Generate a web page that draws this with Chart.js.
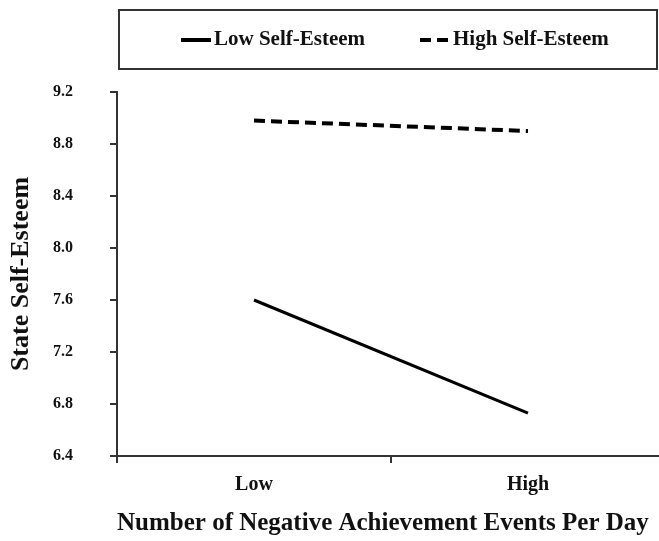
<!DOCTYPE html>
<html>
<head>
<meta charset="utf-8">
<script src="https://cdn.jsdelivr.net/npm/chart.js@4"></script>
<style>
  html, body { margin: 0; padding: 0; background: #fff; overflow: hidden; }
  #wrap { width: 670px; height: 541px; }
</style>
</head>
<body>
<div id="wrap"><canvas id="c" width="670" height="541"></canvas></div>
<script>
const categories = ["Low", "High"];
const lowSelfEsteem = [7.60, 6.73];
const highSelfEsteem = [8.98, 8.90];
const seriesNames = ["Low Self-Esteem", "High Self-Esteem"];
const yTicks = [6.4, 6.8, 7.2, 7.6, 8.0, 8.4, 8.8, 9.2];

const FONT = "'Liberation Serif', 'Times New Roman', serif";
const AXIS = "#333333";
const INK = "#111111";

const boxedLegend = {
  id: 'boxedLegend',
  afterDraw(chart) {
    const ctx = chart.ctx;
    ctx.save();
    ctx.strokeStyle = AXIS;
    ctx.lineWidth = 2;
    ctx.strokeRect(119, 10, 538, 59);
    const starts = [181, 420];
    const cy = 40;
    chart.data.datasets.forEach((ds, i) => {
      const x0 = starts[i];
      ctx.beginPath();
      ctx.setLineDash(ds.borderDash || []);
      ctx.lineWidth = 4;
      ctx.strokeStyle = ds.borderColor;
      ctx.lineCap = 'butt';
      ctx.moveTo(x0, cy);
      ctx.lineTo(x0 + 30, cy);
      ctx.stroke();
      ctx.setLineDash([]);
      ctx.fillStyle = INK;
      ctx.font = "bold 21px " + FONT;
      ctx.textBaseline = 'middle';
      ctx.textAlign = 'left';
      ctx.fillText(ds.label, x0 + 33, cy);
    });
    ctx.restore();
  }
};

new Chart(document.getElementById('c'), {
  type: 'line',
  data: {
    labels: categories,
    datasets: [
      {
        label: seriesNames[0],
        data: lowSelfEsteem,
        borderColor: '#000000',
        borderWidth: 3,
        pointRadius: 0,
        tension: 0,
        fill: false
      },
      {
        label: seriesNames[1],
        data: highSelfEsteem,
        borderColor: '#000000',
        borderWidth: 4,
        borderDash: [11, 6],
        pointRadius: 0,
        tension: 0,
        fill: false
      }
    ]
  },
  options: {
    responsive: false,
    animation: false,
    devicePixelRatio: 1,
    layout: { padding: { left: 0, right: 5, top: 92, bottom: 0 } },
    plugins: {
      legend: { display: false },
      tooltip: { enabled: false }
    },
    scales: {
      x: {
        type: 'category',
        offset: true,
        afterFit: (s) => { s.height = 85; },
        grid: {
          offset: true,
          drawOnChartArea: false,
          drawTicks: true,
          tickLength: 7,
          color: AXIS,
          lineWidth: 2
        },
        border: { display: true, color: AXIS, width: 2 },
        ticks: {
          color: INK,
          padding: 10,
          font: { family: FONT, size: 20, weight: 'bold' }
        },
        title: {
          display: true,
          align: 'start',
          text: 'Number of Negative Achievement Events Per Day',
          color: INK,
          padding: { top: 0, bottom: 2 },
          font: { family: FONT, size: 25, weight: 'bold' }
        }
      },
      y: {
        min: 6.4,
        max: 9.2,
        afterFit: (s) => { s.width = 117; },
        afterBuildTicks: (s) => { s.ticks = yTicks.map(v => ({ value: v })); },
        grid: {
          drawOnChartArea: false,
          drawTicks: true,
          tickLength: 7,
          color: AXIS,
          lineWidth: 2
        },
        border: { display: true, color: AXIS, width: 2 },
        ticks: {
          color: INK,
          padding: 37,
          callback: (v) => Number(v).toFixed(1),
          font: { family: FONT, size: 16, weight: 'bold' }
        },
        title: {
          display: true,
          text: 'State Self-Esteem',
          color: INK,
          padding: { top: 6, bottom: 0 },
          font: { family: FONT, size: 26, weight: 'bold' }
        }
      }
    }
  },
  plugins: [boxedLegend]
});
</script>
</body>
</html>
